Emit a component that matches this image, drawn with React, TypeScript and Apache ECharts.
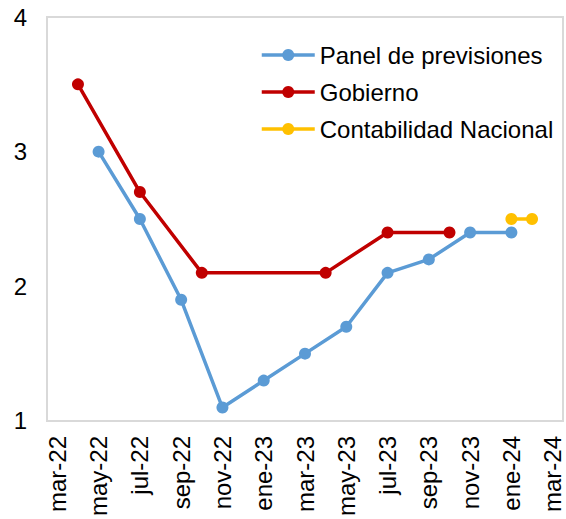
import React, { useEffect, useRef } from "react";
import * as echarts from "echarts";

const months: string[] = [
  "mar-22", "abr-22", "may-22", "jun-22", "jul-22", "ago-22", "sep-22", "oct-22", "nov-22", "dic-22",
  "ene-23", "feb-23", "mar-23", "abr-23", "may-23", "jun-23", "jul-23", "ago-23", "sep-23", "oct-23",
  "nov-23", "dic-23", "ene-24", "feb-24", "mar-24",
];

const panelValues: (number | null)[] = [
  null, null, 3.0, null, 2.5, null, 1.9, null, 1.1, null,
  1.3, null, 1.5, null, 1.7, null, 2.1, null, 2.2, null,
  2.4, null, 2.4, null, null,
];

const gobiernoValues: (number | null)[] = [
  null, 3.5, null, null, 2.7, null, null, 2.1, null, null,
  null, null, null, 2.1, null, null, 2.4, null, null, 2.4,
  null, null, null, null, null,
];

const contabilidadValues: (number | null)[] = [
  null, null, null, null, null, null, null, null, null, null,
  null, null, null, null, null, null, null, null, null, null,
  null, null, 2.5, 2.5, null,
];

const FONT = "'Liberation Sans', Arial, sans-serif";

export default function App() {
  const ref = useRef<HTMLDivElement>(null);
  useEffect(() => {
    if (!ref.current) return;
    const chart = echarts.init(ref.current, undefined, { renderer: "svg" });
    const mkSeries = (name: string, data: (number | null)[], color: string) => ({
      name,
      type: "line",
      data,
      connectNulls: true,
      symbol: "circle",
      symbolSize: 12,
      itemStyle: { color },
      lineStyle: { color, width: 3.5 },
    });
    chart.setOption({
      animation: false,
      textStyle: { fontFamily: FONT },
      grid: {
        left: 47,
        right: 3,
        top: 17,
        bottom: 94,
        show: true,
        borderColor: "#d9d9d9",
        borderWidth: 2,
        containLabel: false,
      },
      legend: {
        orient: "vertical",
        left: 260,
        top: 43,
        padding: 0,
        itemWidth: 53,
        itemHeight: 15,
        itemGap: 13,
        lineStyle: { width: 3.5 },
        textStyle: { fontSize: 24, color: "#000", fontFamily: FONT },
        data: ["Panel de previsiones", "Gobierno", "Contabilidad Nacional"],
      },
      xAxis: {
        type: "category",
        data: months,
        boundaryGap: true,
        axisLine: { show: false },
        axisTick: { show: false },
        splitLine: { show: false },
        axisLabel: {
          interval: 1,
          rotate: 90,
          margin: 15,
          fontSize: 24,
          color: "#000",
          fontFamily: FONT,
        },
      },
      yAxis: {
        type: "value",
        min: 1,
        max: 4,
        interval: 1,
        axisLine: { show: false },
        axisTick: { show: false },
        splitLine: { show: false },
        axisLabel: {
          margin: 20,
          fontSize: 24,
          color: "#000",
          fontFamily: FONT,
        },
      },
      series: [
        mkSeries("Panel de previsiones", panelValues, "#5B9BD5"),
        mkSeries("Gobierno", gobiernoValues, "#C00000"),
        mkSeries("Contabilidad Nacional", contabilidadValues, "#FFC000"),
      ],
    });
    return () => chart.dispose();
  }, []);
  return (
    <div
      ref={ref}
      style={{ position: "fixed", left: 0, top: 0, width: 566, height: 519, background: "#fff" }}
    />
  );
}
